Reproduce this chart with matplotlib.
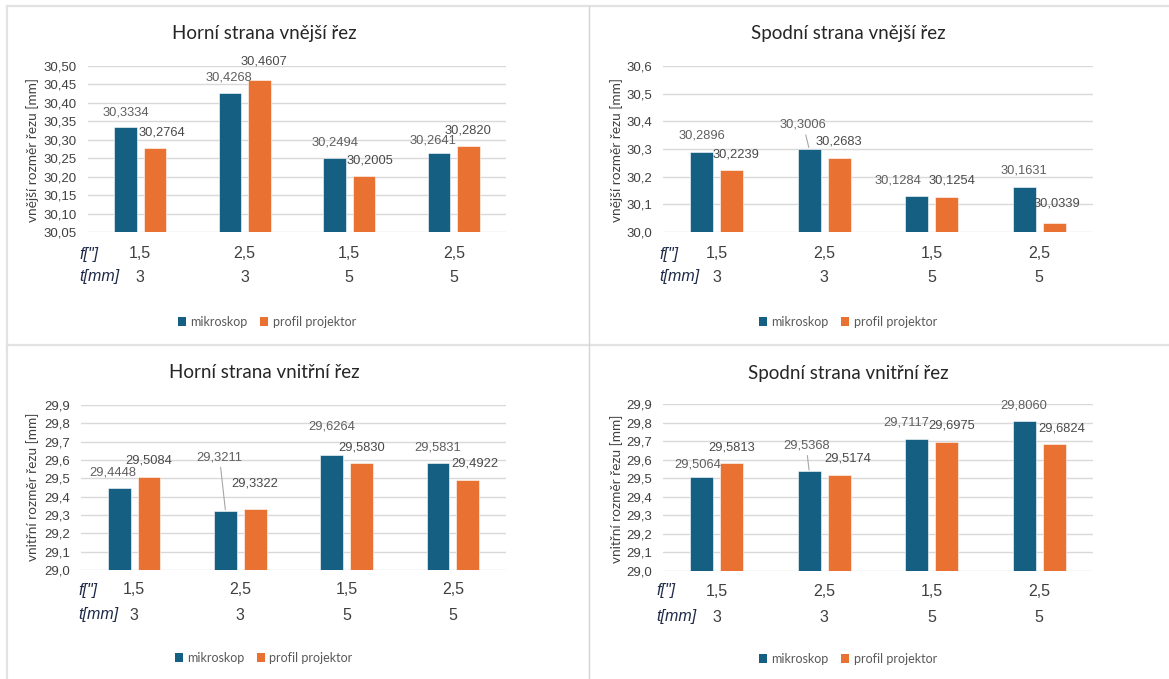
import matplotlib
matplotlib.use("Agg")
import matplotlib.pyplot as plt
from matplotlib.patches import Patch
from matplotlib.lines import Line2D
from matplotlib.ticker import FuncFormatter, MultipleLocator

# ---- data -------------------------------------------------------------
series_names = ["mikroskop", "profil projektor"]
f_labels = ["1,5", "2,5", "1,5", "2,5"]
t_labels = ["3", "3", "5", "5"]

titles = [
    "Horní strana vnější řez",
    "Spodní strana vnější řez",
    "Horní strana vnitřní řez",
    "Spodní strana vnitřní řez",
]
ylabels = [
    "vnější rozměr řezu [mm]",
    "vnější rozměr řezu [mm]",
    "vnitřní rozměr řezu [mm]",
    "vnitřní rozměr řezu [mm]",
]

horni_vnejsi_mikroskop = [30.3334, 30.4268, 30.2494, 30.2641]
horni_vnejsi_projektor = [30.2764, 30.4607, 30.2005, 30.2820]
spodni_vnejsi_mikroskop = [30.2896, 30.3006, 30.1284, 30.1631]
spodni_vnejsi_projektor = [30.2239, 30.2683, 30.1254, 30.0339]
horni_vnitrni_mikroskop = [29.4448, 29.3211, 29.6264, 29.5831]
horni_vnitrni_projektor = [29.5084, 29.3322, 29.5830, 29.4922]
spodni_vnitrni_mikroskop = [29.5064, 29.5368, 29.7117, 29.8060]
spodni_vnitrni_projektor = [29.5813, 29.5174, 29.6975, 29.6824]

# ---- layout (pixels of a 1169 x 679 canvas) ---------------------------
W, H = 1169, 679
colors = ["#156082", "#E97132"]
label_colors = ["#5f5f5f", "#4a4a4a"]
grid_color = "#d9d9d9"
text_dark = "#404040"

panels = [
    dict(title=titles[0], ylabel=ylabels[0],
         mik=horni_vnejsi_mikroskop, pro=horni_vnejsi_projektor,
         box=(88, 66, 506, 232), ylim=(30.05, 30.50), step=0.05, dec=2,
         title_xy=(264, 34), ylab_xy=(33, 150), head_x=79,
         rows=(22, 45), legend_y=322,
         offs=[[(0, 15), (7, 16)], [(-1, 16), (5, 19)],
               [(0, 16), (6, 16)], [(-6, 13), (0, 16)]],
         leaders=[]),
    dict(title=titles[1], ylabel=ylabels[1],
         mik=spodni_vnejsi_mikroskop, pro=spodni_vnejsi_projektor,
         box=(663, 66, 1093, 232), ylim=(30.0, 30.6), step=0.1, dec=1,
         title_xy=(848, 34), ylab_xy=(617, 150), head_x=659,
         rows=(22, 45), legend_y=322,
         offs=[[(0, 16), (4, 16)], [(-6, 24), (0, 16)],
               [(-19, 16), (5, 17)], [(0, 16), (3, 19)]],
         leaders=[(1, 0)]),
    dict(title=titles[2], ylabel=ylabels[2],
         mik=horni_vnitrni_mikroskop, pro=horni_vnitrni_projektor,
         box=(81, 405, 506, 570), ylim=(29.0, 29.9), step=0.1, dec=1,
         title_xy=(264, 372), ylab_xy=(33, 487), head_x=78,
         rows=(20, 45), legend_y=658,
         offs=[[(-6, 16), (0, 16)], [(-6, 54), (0, 26)],
               [(0, 29), (0, 16)], [(0, 16), (7, 16)]],
         leaders=[(1, 0)]),
    dict(title=titles[3], ylabel=ylabels[3],
         mik=spodni_vnitrni_mikroskop, pro=spodni_vnitrni_projektor,
         box=(663, 404, 1093, 571), ylim=(29.0, 29.9), step=0.1, dec=1,
         title_xy=(848, 373), ylab_xy=(617, 489), head_x=656,
         rows=(20, 46), legend_y=659,
         offs=[[(-4, 13), (0, 16)], [(-3, 26), (8, 16)],
               [(-10, 16), (5, 16)], [(0, 16), (7, 16)]],
         leaders=[(1, 0)]),
]

PX = 72.0 / 100.0  # points per pixel at dpi 100

fig = plt.figure(figsize=(W / 100, H / 100), dpi=100)
fig.patch.set_facecolor("white")


def fx(x):
    return x / W


def fy(y):
    return 1 - y / H


# panel frame lines
frame_kw = dict(color="#e2e2e2", lw=1.6, transform=fig.transFigure)
fig.add_artist(Line2D([fx(7), fx(7)], [fy(6), fy(679)], **frame_kw))
fig.add_artist(Line2D([fx(7), fx(1168)], [fy(6), fy(6)], **frame_kw))
fig.add_artist(Line2D([fx(7), fx(1169)], [fy(345), fy(345)], **frame_kw))
fig.add_artist(Line2D([fx(589), fx(589)], [fy(6), fy(679)],
                      color="#d4d4d4", lw=1.0, transform=fig.transFigure))

num_font = "Liberation Sans"
txt_font = "Lato"
width = 0.215
shift = 0.14


def comma(v, dec):
    return f"{v:.{dec}f}".replace(".", ",")


for p in panels:
    x0, y0, x1, y1 = p["box"]
    ax = fig.add_axes([fx(x0), fy(y1), fx(x1) - fx(x0), fy(y0) - fy(y1)])
    ax.set_xlim(0, 4)
    ax.set_ylim(*p["ylim"])
    ax.yaxis.set_major_locator(MultipleLocator(p["step"]))
    dec = p["dec"]
    ax.yaxis.set_major_formatter(FuncFormatter(lambda v, _, d=dec: comma(v, d)))
    ax.grid(axis="y", color=grid_color, lw=1.0)
    ax.set_axisbelow(True)
    for s in ax.spines.values():
        s.set_visible(False)
    ax.set_xticks([])
    ax.tick_params(axis="y", length=0, pad=8, labelsize=9.5, labelcolor=text_dark)
    for lab in ax.get_yticklabels():
        lab.set_fontfamily(num_font)

    base = p["ylim"][0]
    centers = [i + 0.5 for i in range(4)]
    for si, vals in enumerate([p["mik"], p["pro"]]):
        xs = [c + (-shift if si == 0 else shift) for c in centers]
        heights = [v - base for v in vals]
        ax.bar(xs, heights, width=width, bottom=base, color=colors[si],
               edgecolor="white", linewidth=0.4, zorder=2)
        for i, (x, v) in enumerate(zip(xs, vals)):
            dx, dy = p["offs"][i][si]
            arrow = None
            if (i, si) in p["leaders"]:
                arrow = dict(arrowstyle="-", color="#a6a6a6", lw=0.8,
                             shrinkA=1, shrinkB=1)
            ax.annotate(comma(v, 4), xy=(x, v), xytext=(dx * PX, dy * PX),
                        textcoords="offset points", ha="center", va="center",
                        fontsize=9.3, color=label_colors[si], family=num_font,
                        arrowprops=arrow, zorder=3)

    # two-row category axis
    r1, r2 = p["rows"]
    for i, c in enumerate(centers):
        ax.annotate(f_labels[i], xy=(c, 0), xycoords=("data", "axes fraction"),
                    xytext=(0, -r1 * PX), textcoords="offset points",
                    ha="center", va="center", fontsize=11.5, color=text_dark,
                    family=num_font)
        ax.annotate(t_labels[i], xy=(c, 0), xycoords=("data", "axes fraction"),
                    xytext=(0, -r2 * PX), textcoords="offset points",
                    ha="center", va="center", fontsize=11.5, color=text_dark,
                    family=num_font)
    hx = p["head_x"]
    fig.text(fx(hx), fy(y1 + r1), 'f["]', ha="left", va="center",
             fontsize=11.5, style="italic", color="#1e2a48", family=num_font)
    fig.text(fx(hx), fy(y1 + r2), "t[mm]", ha="left", va="center",
             fontsize=11.5, style="italic", color="#1e2a48", family=num_font)

    # title and axis label
    tx, ty = p["title_xy"]
    fig.text(fx(tx), fy(ty), p["title"], ha="center", va="center",
             fontsize=13.5, color="#262626", family=txt_font)
    lx, ly = p["ylab_xy"]
    fig.text(fx(lx), fy(ly), p["ylabel"], ha="center", va="center",
             rotation=90, fontsize=9.8, color=text_dark, family=txt_font)

    # legend
    handles = [Patch(facecolor=colors[k], edgecolor="none", label=series_names[k])
               for k in range(2)]
    ax.legend(handles=handles, ncol=2, loc="center", frameon=False,
              bbox_to_anchor=(fx((x0 + x1) / 2 - 30), fy(p["legend_y"])),
              bbox_transform=fig.transFigure, handlelength=0.65,
              handleheight=0.65, handletextpad=0.35, columnspacing=1.0,
              prop=dict(family=txt_font, size=9), labelcolor="#595959")

fig.savefig("out.png", dpi=100, facecolor="white")
